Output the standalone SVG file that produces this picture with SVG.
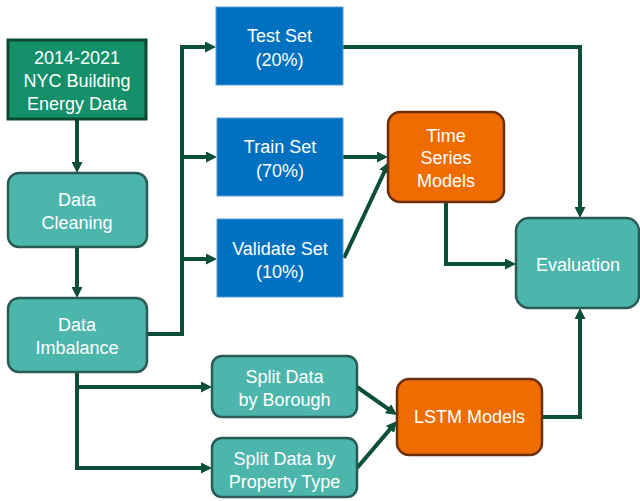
<svg xmlns="http://www.w3.org/2000/svg" width="640" height="501" viewBox="0 0 640 501">
<defs>
<marker id="ah" viewBox="0 0 11 11" markerWidth="11" markerHeight="11" markerUnits="userSpaceOnUse" refX="2" refY="5.5" orient="auto">
<path d="M0,0 L11,5.5 L0,11 z" fill="#0b4f36"/>
</marker>
<style>
text{font-family:"Liberation Sans",Arial,sans-serif;font-size:18px;fill:#ffffff;text-anchor:middle}
.teal{fill:#4db6ac;stroke:#2b5a55;stroke-width:2.5}
.green{fill:#13906a;stroke:#0b4a30;stroke-width:3}
.blue{fill:#0070c0;stroke:#5b9bd5;stroke-width:1}
.orange{fill:#ef6c00;stroke:#6b2e0a;stroke-width:2.5}
.c{fill:none;stroke:#0b4f36;stroke-width:4}
.a{marker-end:url(#ah)}
</style>
</defs>
<g id="connectors">
<path class="c a" d="M77,119 V164"/>
<path class="c a" d="M77,247 V289"/>
<path class="c a" d="M147,334 H182 V47 H207"/>
<path class="c a" d="M182,157 H208"/>
<path class="c a" d="M182,259 H208"/>
<path class="c a" d="M343,47 H580 V209"/>
<path class="c a" d="M343,157 H379"/>
<path class="c a" d="M344,258 L385.2,170"/>
<path class="c a" d="M446,202 V264 H507"/>
<path class="c a" d="M77,372 V468 H203"/>
<path class="c a" d="M77,387 H203"/>
<path class="c a" d="M357,387 L389.6,409.8"/>
<path class="c a" d="M357,468 L391.2,427.9"/>
<path class="c a" d="M542,417 H580 V317"/>
</g>
<g id="source">
<rect class="green" x="8" y="40" width="138" height="79"/>
<text x="77" y="64">2014-2021</text>
<text x="77" y="87">NYC Building</text>
<text x="77" y="110">Energy Data</text>
</g>
<g id="cleaning">
<rect class="teal" x="8" y="173" width="139" height="74" rx="11"/>
<text x="77" y="206">Data</text>
<text x="77" y="229">Cleaning</text>
</g>
<g id="imbalance">
<rect class="teal" x="8" y="298" width="139" height="74" rx="11"/>
<text x="77" y="331">Data</text>
<text x="77" y="354">Imbalance</text>
</g>
<g id="test">
<rect class="blue" x="216" y="7" width="127" height="78"/>
<text x="279.5" y="42">Test Set</text>
<text x="279.5" y="66">(20%)</text>
</g>
<g id="train">
<rect class="blue" x="217" y="118" width="126" height="78"/>
<text x="280" y="153">Train Set</text>
<text x="280" y="177">(70%)</text>
</g>
<g id="validate">
<rect class="blue" x="217" y="219" width="126" height="78"/>
<text x="280" y="255">Validate Set</text>
<text x="280" y="278">(10%)</text>
</g>
<g id="timeseries">
<rect class="orange" x="388" y="112" width="116" height="90" rx="12"/>
<text x="446" y="142">Time</text>
<text x="446" y="164">Series</text>
<text x="446" y="187">Models</text>
</g>
<g id="evaluation">
<rect class="teal" x="516" y="218" width="123" height="90" rx="13"/>
<text x="578" y="271">Evaluation</text>
</g>
<g id="borough">
<rect class="teal" x="212" y="356" width="145" height="61" rx="10"/>
<text x="284.5" y="383">Split Data</text>
<text x="284.5" y="406">by Borough</text>
</g>
<g id="property">
<rect class="teal" x="212" y="438" width="145" height="59" rx="10"/>
<text x="284.5" y="465">Split Data by</text>
<text x="284.5" y="488">Property Type</text>
</g>
<g id="lstm">
<rect class="orange" x="397" y="379" width="145" height="76" rx="12"/>
<text x="469.5" y="423">LSTM Models</text>
</g>
</svg>
